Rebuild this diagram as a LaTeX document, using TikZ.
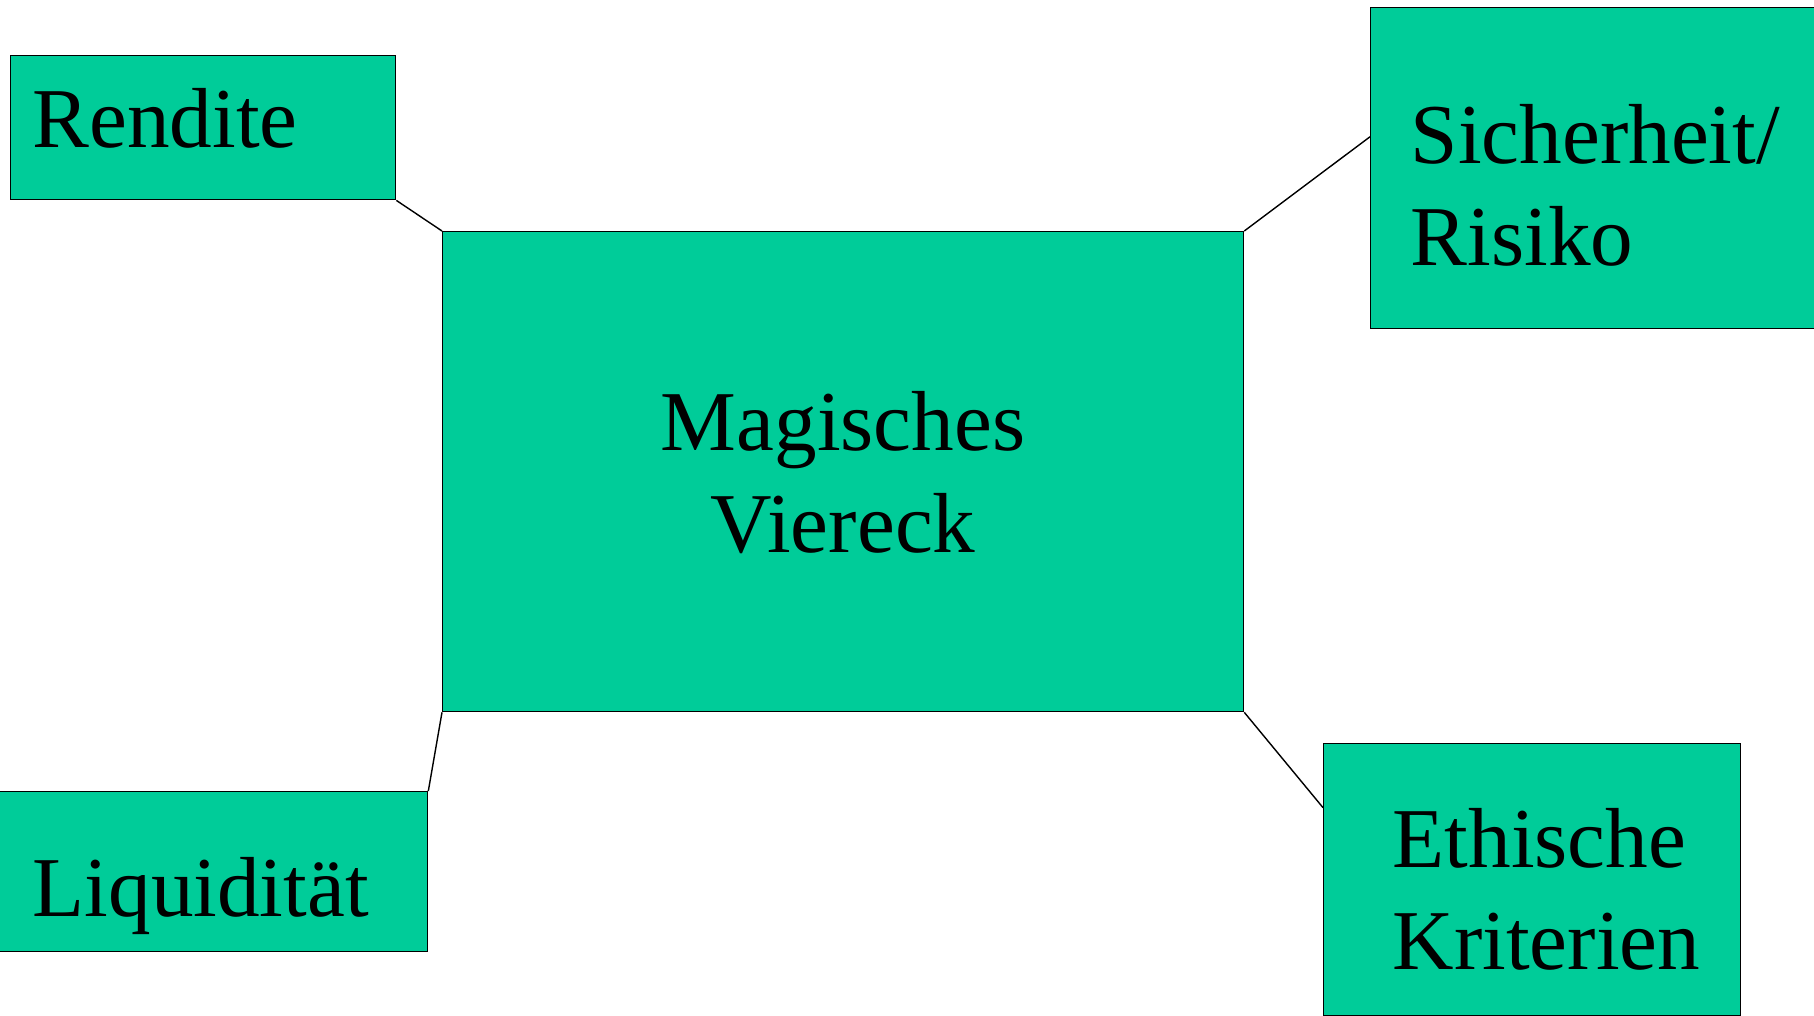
\documentclass[tikz,border=0pt]{standalone}
\usepackage{fontspec}
\setmainfont{Liberation Serif}
\usepackage{tikz}
\definecolor{tuerkis}{RGB}{0,204,153}

\begin{document}
\begin{tikzpicture}[x=0.02cm,y=-0.02cm,
  kasten/.style={draw=black, fill=tuerkis, line width=0.8pt, anchor=north west,
    inner sep=0pt, align=left, font=\fontsize{48.5}{58}\selectfont}]
%Rahmen des Bildes
\useasboundingbox (0,0) rectangle (1814,1015);

%die vier Ziele und die Mitte
\node[kasten, minimum width=7.7cm, minimum height=2.88cm, text width=6.82cm,
  text height=1.2cm, text depth=0.4cm] (rendite) at (10,55) {Rendite};
\node[kasten, minimum width=8.92cm, minimum height=6.42cm, text width=7.32cm,
  text height=1.2cm, text depth=1.38cm] (sicher) at (1370,7) {Sicherheit/\\Risiko};
\node[kasten, align=center, minimum width=16.02cm, minimum height=9.6cm, text width=12cm,
  text height=1.2cm, text depth=2.04cm] (mitte) at (442,231) {Magisches\\Viereck};
\node[kasten, minimum width=8.58cm, minimum height=3.2cm, text width=7.22cm,
  text height=2cm, text depth=0.2cm] (liqui) at (-2,791) {Liquidität};
\node[kasten, minimum width=8.34cm, minimum height=5.44cm, text width=5.58cm,
  text height=1.2cm, text depth=1.68cm] (ethik) at (1323,743) {Ethische\\Kriterien};

%Verbindungen
\path[-, line width=0.8pt]
(rendite.south east) edge (mitte.north west)
(mitte.north east) edge (sicher.172)
(mitte.south west) edge (liqui.north east)
(mitte.south east) edge (ethik.161);
\end{tikzpicture}
\end{document}
